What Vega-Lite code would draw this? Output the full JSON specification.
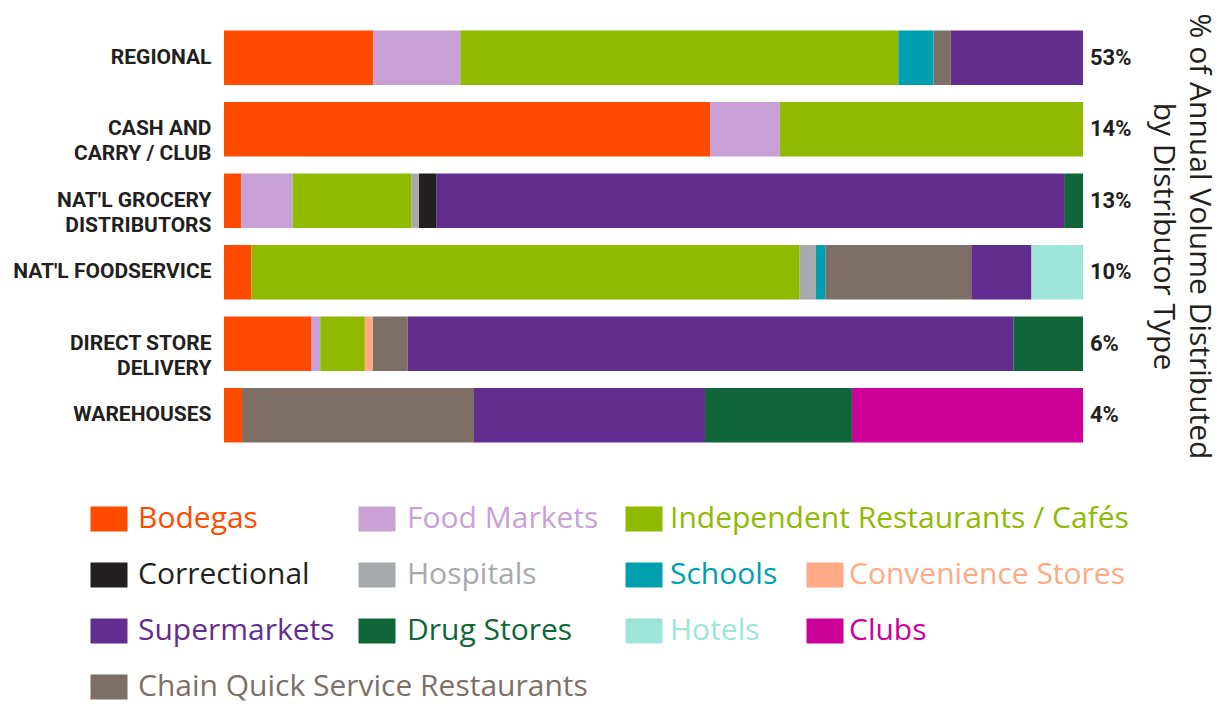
{
  "$schema": "https://vega.github.io/schema/vega-lite/v6.json",
  "autosize": "none",
  "padding": {"left": 224, "top": 22, "right": 139, "bottom": 253},
  "width": 859,
  "height": 429,
  "background": "white",
  "config": {"view": {"stroke": null}},
  "title": {
    "text": ["% of Annual Volume Distributed", "by Distributor Type"],
    "orient": "right",
    "anchor": "middle",
    "frame": "group",
    "offset": 16,
    "font": "Open Sans",
    "fontSize": 30,
    "fontWeight": "normal",
    "color": "#231f20",
    "lineHeight": 36
  },
  "datasets": {
    "segments": [
      {"distributor": "REGIONAL", "type": "Bodegas", "value": 17.4},
      {"distributor": "REGIONAL", "type": "Food Markets", "value": 10.1},
      {"distributor": "REGIONAL", "type": "Independent Restaurants / Cafés", "value": 51.0},
      {"distributor": "REGIONAL", "type": "Schools", "value": 4.1},
      {"distributor": "REGIONAL", "type": "Chain Quick Service Restaurants", "value": 2.0},
      {"distributor": "REGIONAL", "type": "Supermarkets", "value": 15.4},
      {"distributor": "CASH AND\nCARRY / CLUB", "type": "Bodegas", "value": 56.6},
      {"distributor": "CASH AND\nCARRY / CLUB", "type": "Food Markets", "value": 8.1},
      {"distributor": "CASH AND\nCARRY / CLUB", "type": "Independent Restaurants / Cafés", "value": 35.3},
      {"distributor": "NAT'L GROCERY\nDISTRIBUTORS", "type": "Bodegas", "value": 2.0},
      {"distributor": "NAT'L GROCERY\nDISTRIBUTORS", "type": "Food Markets", "value": 6.0},
      {"distributor": "NAT'L GROCERY\nDISTRIBUTORS", "type": "Independent Restaurants / Cafés", "value": 13.8},
      {"distributor": "NAT'L GROCERY\nDISTRIBUTORS", "type": "Hospitals", "value": 0.9},
      {"distributor": "NAT'L GROCERY\nDISTRIBUTORS", "type": "Correctional", "value": 2.0},
      {"distributor": "NAT'L GROCERY\nDISTRIBUTORS", "type": "Supermarkets", "value": 73.1},
      {"distributor": "NAT'L GROCERY\nDISTRIBUTORS", "type": "Drug Stores", "value": 2.2},
      {"distributor": "NAT'L FOODSERVICE", "type": "Bodegas", "value": 3.2},
      {"distributor": "NAT'L FOODSERVICE", "type": "Independent Restaurants / Cafés", "value": 63.8},
      {"distributor": "NAT'L FOODSERVICE", "type": "Hospitals", "value": 1.9},
      {"distributor": "NAT'L FOODSERVICE", "type": "Schools", "value": 1.1},
      {"distributor": "NAT'L FOODSERVICE", "type": "Chain Quick Service Restaurants", "value": 17.0},
      {"distributor": "NAT'L FOODSERVICE", "type": "Supermarkets", "value": 7.0},
      {"distributor": "NAT'L FOODSERVICE", "type": "Hotels", "value": 6.0},
      {"distributor": "DIRECT STORE\nDELIVERY", "type": "Bodegas", "value": 10.2},
      {"distributor": "DIRECT STORE\nDELIVERY", "type": "Food Markets", "value": 1.0},
      {"distributor": "DIRECT STORE\nDELIVERY", "type": "Independent Restaurants / Cafés", "value": 5.2},
      {"distributor": "DIRECT STORE\nDELIVERY", "type": "Convenience Stores", "value": 0.9},
      {"distributor": "DIRECT STORE\nDELIVERY", "type": "Chain Quick Service Restaurants", "value": 4.1},
      {"distributor": "DIRECT STORE\nDELIVERY", "type": "Supermarkets", "value": 70.5},
      {"distributor": "DIRECT STORE\nDELIVERY", "type": "Drug Stores", "value": 8.1},
      {"distributor": "WAREHOUSES", "type": "Bodegas", "value": 2.1},
      {"distributor": "WAREHOUSES", "type": "Chain Quick Service Restaurants", "value": 27.0},
      {"distributor": "WAREHOUSES", "type": "Supermarkets", "value": 26.9},
      {"distributor": "WAREHOUSES", "type": "Drug Stores", "value": 17.1},
      {"distributor": "WAREHOUSES", "type": "Clubs", "value": 26.9}
    ],
    "shares": [
      {"distributor": "REGIONAL", "share": "53%"},
      {"distributor": "CASH AND\nCARRY / CLUB", "share": "14%"},
      {"distributor": "NAT'L GROCERY\nDISTRIBUTORS", "share": "13%"},
      {"distributor": "NAT'L FOODSERVICE", "share": "10%"},
      {"distributor": "DIRECT STORE\nDELIVERY", "share": "6%"},
      {"distributor": "WAREHOUSES", "share": "4%"}
    ]
  },
  "encoding": {
    "y": {
      "field": "distributor",
      "type": "nominal",
      "sort": ["REGIONAL", "CASH AND\nCARRY / CLUB", "NAT'L GROCERY\nDISTRIBUTORS", "NAT'L FOODSERVICE", "DIRECT STORE\nDELIVERY", "WAREHOUSES"],
      "scale": {"paddingInner": 0.24, "paddingOuter": 0.12},
      "axis": {
        "title": null,
        "domain": false,
        "ticks": false,
        "labelPadding": 13,
        "labelFont": "Roboto",
        "labelFontWeight": "bold",
        "labelFontSize": 21,
        "labelColor": "#231f20",
        "labelLimit": 300,
        "labelLineHeight": 25,
        "labelExpr": "split(datum.value, '\\n')"
      }
    }
  },
  "layer": [
    {
      "data": {"name": "segments"},
      "transform": [
        {"stack": "value", "groupby": ["distributor"], "offset": "normalize", "as": ["x0", "x1"]},
        {"filter": {"field": "type", "oneOf": ["Bodegas", "Correctional", "Supermarkets", "Chain Quick Service Restaurants"]}}
      ],
      "mark": {"type": "bar"},
      "encoding": {
        "x": {"field": "x0", "type": "quantitative", "scale": {"domain": [0, 1]}, "axis": null},
        "x2": {"field": "x1"},
        "color": {
          "field": "type", "type": "nominal",
          "scale": {"domain": ["Bodegas", "Correctional", "Supermarkets", "Chain Quick Service Restaurants"], "range": ["#ff4b00", "#231f20", "#632d8f", "#7d6f66"]},
          "legend": {"title": null, "orient": "none", "legendX": -130, "legendY": 482, "direction": "vertical", "padding": 0,
            "symbolType": "M-1.48,-1H1.48V1H-1.48Z", "symbolSize": 625, "symbolStrokeWidth": 0, "symbolOpacity": 1,
            "labelFont": "Open Sans", "labelFontSize": 30, "labelOffset": 14, "rowPadding": 26, "labelLimit": 600,
            "encode": {"labels": {"update": {"fill": {"scale": "layer_0_color", "field": "value"}}}}}
        }
      }
    },
    {
      "data": {"name": "segments"},
      "transform": [
        {"stack": "value", "groupby": ["distributor"], "offset": "normalize", "as": ["x0", "x1"]},
        {"filter": {"field": "type", "oneOf": ["Food Markets", "Hospitals", "Drug Stores"]}}
      ],
      "mark": {"type": "bar"},
      "encoding": {
        "x": {"field": "x0", "type": "quantitative", "scale": {"domain": [0, 1]}, "axis": null},
        "x2": {"field": "x1"},
        "color": {
          "field": "type", "type": "nominal",
          "scale": {"domain": ["Food Markets", "Hospitals", "Drug Stores"], "range": ["#c9a0d6", "#a7a9ac", "#0e6639"]},
          "legend": {"title": null, "orient": "none", "legendX": 138, "legendY": 482, "direction": "vertical", "padding": 0,
            "symbolType": "M-1.48,-1H1.48V1H-1.48Z", "symbolSize": 625, "symbolStrokeWidth": 0, "symbolOpacity": 1,
            "labelFont": "Open Sans", "labelFontSize": 30, "labelOffset": 15, "rowPadding": 26, "labelLimit": 600,
            "encode": {"labels": {"update": {"fill": {"scale": "layer_1_color", "field": "value"}}}}}
        }
      }
    },
    {
      "data": {"name": "segments"},
      "transform": [
        {"stack": "value", "groupby": ["distributor"], "offset": "normalize", "as": ["x0", "x1"]},
        {"filter": {"field": "type", "oneOf": ["Independent Restaurants / Cafés", "Schools", "Hotels"]}}
      ],
      "mark": {"type": "bar"},
      "encoding": {
        "x": {"field": "x0", "type": "quantitative", "scale": {"domain": [0, 1]}, "axis": null},
        "x2": {"field": "x1"},
        "color": {
          "field": "type", "type": "nominal",
          "scale": {"domain": ["Independent Restaurants / Cafés", "Schools", "Hotels"], "range": ["#8fba00", "#009faf", "#9de5d8"]},
          "legend": {"title": null, "orient": "none", "legendX": 405, "legendY": 482, "direction": "vertical", "padding": 0,
            "symbolType": "M-1.48,-1H1.48V1H-1.48Z", "symbolSize": 625, "symbolStrokeWidth": 0, "symbolOpacity": 1,
            "labelFont": "Open Sans", "labelFontSize": 30, "labelOffset": 11, "rowPadding": 26, "labelLimit": 600,
            "encode": {"labels": {"update": {"fill": {"scale": "layer_2_color", "field": "value"}}}}}
        }
      }
    },
    {
      "data": {"name": "segments"},
      "transform": [
        {"stack": "value", "groupby": ["distributor"], "offset": "normalize", "as": ["x0", "x1"]},
        {"filter": {"field": "type", "oneOf": ["Convenience Stores", "Clubs"]}}
      ],
      "mark": {"type": "bar"},
      "encoding": {
        "x": {"field": "x0", "type": "quantitative", "scale": {"domain": [0, 1]}, "axis": null},
        "x2": {"field": "x1"},
        "color": {
          "field": "type", "type": "nominal",
          "scale": {"domain": ["Convenience Stores", "Clubs"], "range": ["#ffaa85", "#cc0099"]},
          "legend": {"title": null, "orient": "none", "legendX": 586, "legendY": 538, "direction": "vertical", "padding": 0,
            "symbolType": "M-1.48,-1H1.48V1H-1.48Z", "symbolSize": 625, "symbolStrokeWidth": 0, "symbolOpacity": 1,
            "labelFont": "Open Sans", "labelFontSize": 30, "labelOffset": 9, "rowPadding": 26, "labelLimit": 600,
            "encode": {"labels": {"update": {"fill": {"scale": "layer_3_color", "field": "value"}}}}}
        }
      }
    },
    {
      "data": {"name": "shares"},
      "mark": {"type": "text", "align": "left", "baseline": "middle", "dx": 7, "font": "Roboto", "fontWeight": "bold", "fontSize": 22, "color": "#231f20"},
      "encoding": {
        "x": {"datum": 1, "type": "quantitative"},
        "text": {"field": "share"}
      }
    }
  ],
  "resolve": {"scale": {"color": "independent"}, "legend": {"color": "independent"}}
}
